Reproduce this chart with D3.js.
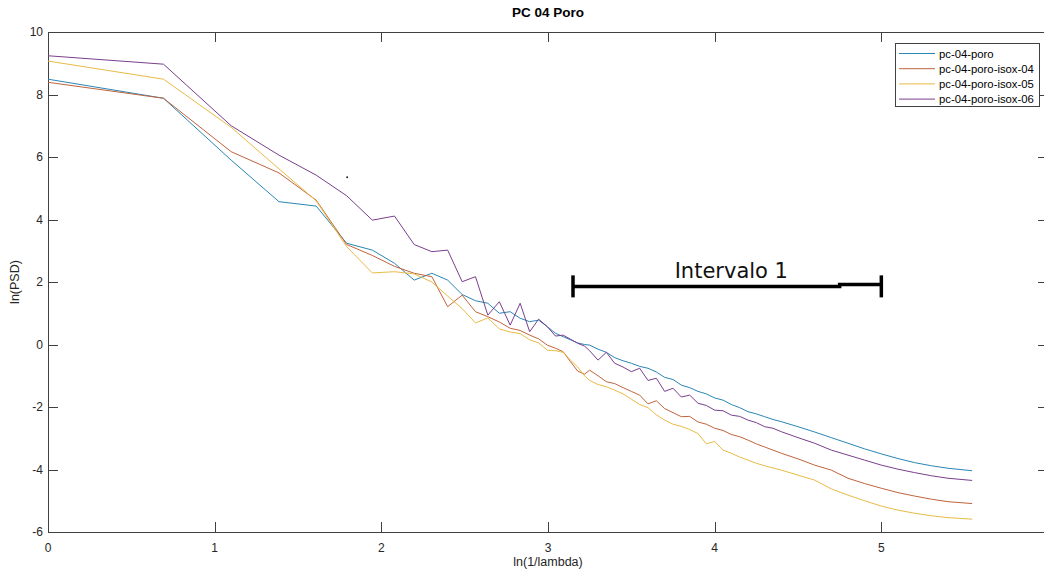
<!DOCTYPE html>
<html>
<head>
<meta charset="utf-8">
<script src="https://cdn.jsdelivr.net/npm/d3@7"></script>
<style>
body { margin: 0; background: #fff; }
text { font-family: "Liberation Sans", Arial, sans-serif; }
</style>
</head>
<body>
<div id="chart"></div>
<script>
// ln(1/lambda) for the first 25 frequencies, shared by all series
var xHead = [0, 0.693, 1.099, 1.386, 1.609, 1.792, 1.946, 2.079, 2.197, 2.303, 2.398, 2.485, 2.565,
  2.639, 2.708, 2.773, 2.833, 2.890, 2.944, 2.996, 3.045, 3.091, 3.135, 3.178, 3.219];
// sampled positions for the smooth tail
var xTail = [3.25, 3.30, 3.35, 3.40, 3.45, 3.50, 3.55, 3.60, 3.65, 3.70, 3.75, 3.80, 3.85, 3.90, 3.95,
  4.00, 4.05, 4.10, 4.15, 4.20, 4.25, 4.30, 4.35, 4.40, 4.5, 4.6, 4.7, 4.8, 4.9, 5.0, 5.1, 5.2, 5.3, 5.4, 5.545];

var poroHead = [8.49, 7.88, 5.9, 4.57, 4.43, 3.24, 3.02, 2.6, 2.06, 2.28, 2.06, 1.6, 1.4, 1.32, 1.0, 1.05,
  0.84, 0.73, 0.78, 0.57, 0.36, 0.25, 0.15, 0.05, 0.0];
var poroTail = [-0.02, -0.15, -0.25, -0.42, -0.52, -0.60, -0.70, -0.76, -0.88, -1.05, -1.12, -1.30, -1.38,
  -1.50, -1.58, -1.71, -1.78, -1.92, -2.02, -2.15, -2.22, -2.31, -2.40, -2.47, -2.63, -2.80, -2.98, -3.16,
  -3.34, -3.50, -3.65, -3.78, -3.88, -3.96, -4.04];

var isox04Head = [8.39, 7.88, 6.17, 5.49, 4.62, 3.2, 2.85, 2.5, 2.28, 2.17, 1.21, 1.58, 1.05, 0.89, 0.72,
  0.52, 0.45, 0.30, 0.18, -0.02, -0.12, -0.23, -0.55, -0.85, -0.95];
var isox04Tail = [-0.82, -1.0, -1.19, -1.25, -1.38, -1.50, -1.62, -1.90, -1.80, -2.05, -2.18, -2.31, -2.30,
  -2.48, -2.55, -2.68, -2.75, -2.88, -2.95, -3.06, -3.18, -3.28, -3.38, -3.48, -3.66, -3.86, -4.02, -4.28,
  -4.45, -4.60, -4.74, -4.85, -4.95, -5.03, -5.09];

var isox05Head = [9.07, 8.49, 6.95, 5.62, 4.6, 3.13, 2.29, 2.33, 2.26, 2.0, 1.55, 1.15, 0.69, 0.85, 0.5,
  0.4, 0.35, 0.15, 0.05, -0.18, -0.2, -0.25, -0.5, -0.72, -1.0];
var isox05Tail = [-1.15, -1.28, -1.35, -1.46, -1.58, -1.75, -1.92, -2.02, -2.25, -2.42, -2.55, -2.62, -2.72,
  -2.85, -3.18, -3.10, -3.38, -3.48, -3.60, -3.70, -3.80, -3.88, -3.95, -4.02, -4.18, -4.34, -4.62, -4.82,
  -5.00, -5.17, -5.30, -5.40, -5.48, -5.54, -5.59];

var isox06Head = [9.24, 8.97, 7.0, 6.06, 5.42, 4.76, 3.98, 4.11, 3.2, 2.97, 3.02, 2.01, 2.17, 0.94, 1.37,
  0.62, 1.32, 0.41, 0.81, 0.57, 0.27, 0.30, 0.17, 0.04, -0.05];
var isox06Tail = [-0.2, -0.5, -0.25, -0.6, -0.72, -0.87, -0.76, -1.15, -1.08, -1.50, -1.40, -1.68, -1.62,
  -1.88, -1.95, -2.10, -2.12, -2.26, -2.30, -2.42, -2.50, -2.63, -2.68, -2.79, -2.98, -3.16, -3.38, -3.54,
  -3.70, -3.86, -3.99, -4.10, -4.20, -4.28, -4.35];

var seriesNames = ["pc-04-poro", "pc-04-poro-isox-04", "pc-04-poro-isox-05", "pc-04-poro-isox-06"];
var seriesColors = ["#2a86b5", "#c0643e", "#e8bb45", "#7a3f8c"];
var xTicks = [0, 1, 2, 3, 4, 5, 6];
var yTicks = [-6, -4, -2, 0, 2, 4, 6, 8, 10];

// hand drawn interval marker
var intervalo = {x0: 3.15, x1: 5.0, xStep: 4.75, y: 1.86, yStep: 1.92, label: "Intervalo 1"};
var strayDot = {x: 1.795, y: 5.35};

var W = 1044, H = 572;
var plotL = 48, plotR = 1048, plotT = 32, plotB = 532;

var svg = d3.select("#chart").append("svg")
  .attr("width", W)
  .attr("height", H);

var x = d3.scaleLinear().domain([0, 6]).range([plotL, plotR]);
var y = d3.scaleLinear().domain([-6, 10]).range([plotB, plotT]);

var heads = [poroHead, isox04Head, isox05Head, isox06Head];
var tails = [poroTail, isox04Tail, isox05Tail, isox06Tail];
var series = seriesNames.map(function (name, i) {
  var pts = xHead.map(function (v, j) { return [v, heads[i][j]]; })
    .concat(xTail.map(function (v, j) { return [v, tails[i][j]]; }));
  return {name: name, color: seriesColors[i], points: pts};
});

var axisColor = "#404040";

// box
svg.append("rect")
  .attr("x", plotL + 0.5)
  .attr("y", plotT + 0.5)
  .attr("width", plotR - plotL)
  .attr("height", plotB - plotT)
  .attr("fill", "none")
  .attr("stroke", axisColor)
  .attr("stroke-width", 1);

// ticks, inward on all four sides
var tickLen = 10;
svg.append("g").selectAll("line")
  .data(xTicks)
  .enter().append("line")
  .attr("x1", d => Math.round(x(d)) + 0.5).attr("x2", d => Math.round(x(d)) + 0.5)
  .attr("y1", plotB).attr("y2", plotB - tickLen)
  .attr("stroke", axisColor);
svg.append("g").selectAll("line")
  .data(xTicks)
  .enter().append("line")
  .attr("x1", d => Math.round(x(d)) + 0.5).attr("x2", d => Math.round(x(d)) + 0.5)
  .attr("y1", plotT).attr("y2", plotT + tickLen)
  .attr("stroke", axisColor);
svg.append("g").selectAll("line")
  .data(yTicks)
  .enter().append("line")
  .attr("y1", d => Math.round(y(d)) + 0.5).attr("y2", d => Math.round(y(d)) + 0.5)
  .attr("x1", plotL).attr("x2", plotL + tickLen)
  .attr("stroke", axisColor);
svg.append("g").selectAll("line")
  .data(yTicks)
  .enter().append("line")
  .attr("y1", d => Math.round(y(d)) + 0.5).attr("y2", d => Math.round(y(d)) + 0.5)
  .attr("x1", plotR).attr("x2", plotR - tickLen)
  .attr("stroke", axisColor);

// tick labels
svg.append("g").selectAll("text")
  .data(xTicks)
  .enter().append("text")
  .attr("x", d => x(d))
  .attr("y", plotB + 20)
  .attr("text-anchor", "middle")
  .attr("font-size", 12)
  .attr("fill", "#262626")
  .text(d => d);
svg.append("g").selectAll("text")
  .data(yTicks)
  .enter().append("text")
  .attr("x", plotL - 5)
  .attr("y", d => y(d) + 4)
  .attr("text-anchor", "end")
  .attr("font-size", 12)
  .attr("fill", "#262626")
  .text(d => d);

// titles
svg.append("text")
  .attr("x", (plotL + plotR) / 2)
  .attr("y", 17)
  .attr("text-anchor", "middle")
  .attr("font-size", 13.5)
  .attr("font-weight", "bold")
  .attr("fill", "#000")
  .text("PC 04 Poro");
svg.append("text")
  .attr("x", (plotL + plotR) / 2)
  .attr("y", 566)
  .attr("text-anchor", "middle")
  .attr("font-size", 12.5)
  .attr("fill", "#262626")
  .text("ln(1/lambda)");
svg.append("text")
  .attr("transform", "translate(19," + ((plotT + plotB) / 2) + ") rotate(-90)")
  .attr("text-anchor", "middle")
  .attr("font-size", 12.5)
  .attr("fill", "#262626")
  .text("ln(PSD)");

// lines
var line = d3.line()
  .x(d => x(d[0]))
  .y(d => y(d[1]));

svg.append("g").selectAll("path")
  .data(series)
  .enter().append("path")
  .attr("d", d => line(d.points))
  .attr("fill", "none")
  .attr("stroke", d => d.color)
  .attr("stroke-width", 1);

// interval marker
var capH = 11;
svg.append("path")
  .attr("d", "M" + x(intervalo.x0) + "," + y(intervalo.y) +
    "L" + x(intervalo.xStep) + "," + y(intervalo.y) +
    "L" + x(intervalo.xStep) + "," + y(intervalo.yStep) +
    "L" + x(intervalo.x1) + "," + y(intervalo.yStep))
  .attr("fill", "none")
  .attr("stroke", "#000")
  .attr("stroke-width", 3.5);
[intervalo.x0, intervalo.x1].forEach(function (v) {
  svg.append("line")
    .attr("x1", x(v)).attr("x2", x(v))
    .attr("y1", y(intervalo.y) - capH).attr("y2", y(intervalo.y) + capH)
    .attr("stroke", "#000")
    .attr("stroke-width", 3.5);
});
svg.append("text")
  .attr("x", x(4.1))
  .attr("y", y(intervalo.y) - 8)
  .attr("text-anchor", "middle")
  .attr("font-size", 21)
  .attr("fill", "#111")
  .style("font-family", "'DejaVu Sans', sans-serif")
  .text(intervalo.label);

svg.append("circle")
  .attr("cx", x(strayDot.x))
  .attr("cy", y(strayDot.y))
  .attr("r", 1)
  .attr("fill", "#222");

// legend
var lg = svg.append("g").attr("transform", "translate(895,43)");
lg.append("rect")
  .attr("x", 0.5).attr("y", 0.5)
  .attr("width", 144).attr("height", 63)
  .attr("fill", "#fff")
  .attr("stroke", axisColor);
var items = lg.selectAll(".legend")
  .data(series)
  .enter().append("g")
  .attr("class", "legend")
  .attr("transform", (d, i) => "translate(0," + (10.5 + i * 15.2) + ")");
items.append("line")
  .attr("x1", 4).attr("x2", 40)
  .attr("stroke", d => d.color)
  .attr("stroke-width", 1);
items.append("text")
  .attr("x", 44)
  .attr("y", 4)
  .attr("font-size", 11.3)
  .attr("fill", "#000")
  .text(d => d.name);
</script>
</body>
</html>
